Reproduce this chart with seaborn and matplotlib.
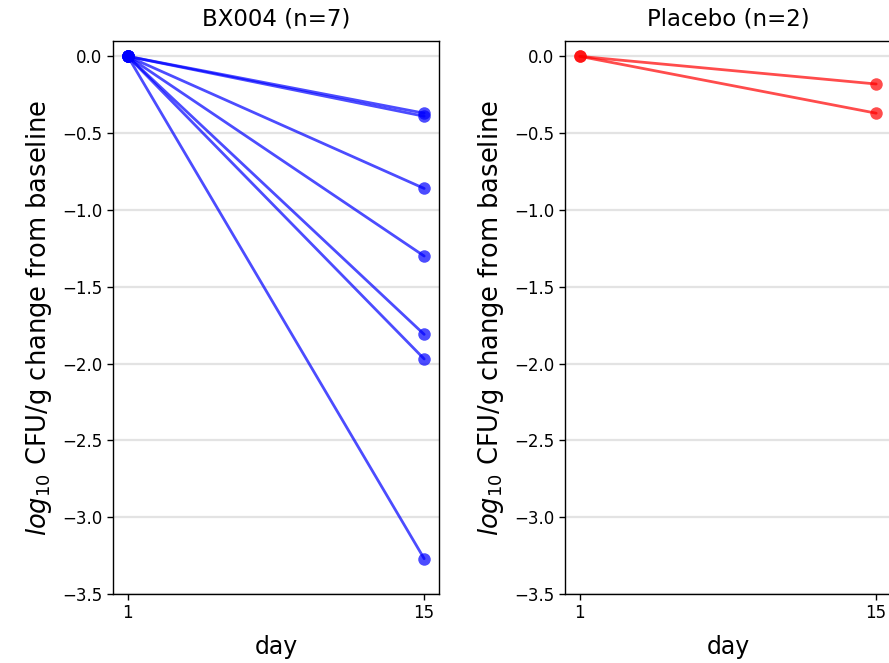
import pandas as pd
import matplotlib
matplotlib.use("Agg")
import matplotlib.pyplot as plt
import seaborn as sns

# -----------------------------
# DATA
# -----------------------------
days = [1, 15]
bx004_day15 = [-0.37, -0.39, -0.86, -1.30, -1.81, -1.97, -3.27]
placebo_day15 = [-0.18, -0.37]
y_ticks = [0.0, -0.5, -1.0, -1.5, -2.0, -2.5, -3.0, -3.5]


def to_long(values, group):
    rows = []
    for i, v in enumerate(values):
        rows.append({"group": group, "subject": i, "day": days[0], "change": 0.0})
        rows.append({"group": group, "subject": i, "day": days[1], "change": v})
    return pd.DataFrame(rows)


df_bx = to_long(bx004_day15, "BX004")
df_pl = to_long(placebo_day15, "Placebo")

# -----------------------------
# PLOT
# -----------------------------
sns.set_style("white")
plt.rcParams["font.family"] = ["DejaVu Sans"]
plt.rcParams["text.color"] = "black"
plt.rcParams["axes.labelcolor"] = "black"
plt.rcParams["xtick.color"] = "black"
plt.rcParams["ytick.color"] = "black"

fig = plt.figure(figsize=(8.89, 6.63), dpi=100)
ax1 = fig.add_axes([113 / 889, 1 - 594 / 663, 326 / 889, 553 / 663])
ax2 = fig.add_axes([565 / 889, 1 - 594 / 663, 326 / 889, 553 / 663])

panels = [
    (ax1, df_bx, "blue", f"BX004 (n={len(bx004_day15)})"),
    (ax2, df_pl, "red", f"Placebo (n={len(placebo_day15)})"),
]

for ax, d, col, title in panels:
    for yv in y_ticks:
        ax.axhline(yv, color="#e3e3e3", lw=1.6, zorder=0)
    sns.lineplot(data=d, x="day", y="change", units="subject", estimator=None,
                 color=col, alpha=0.7, lw=2, marker="o", markersize=9,
                 markeredgewidth=0, ax=ax, zorder=3)
    ax.set_xticks(days)
    ax.set_yticks(y_ticks)
    ax.set_xlim(0.3, 15.7)
    ax.set_ylim(-3.5, 0.1)
    ax.set_title(title, fontsize=16.5, pad=11)
    ax.set_xlabel("day", fontsize=17, labelpad=9)
    ax.set_ylabel(r"$log_{10}$ CFU/g change from baseline", fontsize=18.5, labelpad=6)
    ax.tick_params(axis="both", labelsize=12, length=4, width=1, left=True, bottom=True,
                   colors="black")
    for s in ax.spines.values():
        s.set_color("black")
        s.set_linewidth(1)

fig.savefig("out.png", dpi=100)
